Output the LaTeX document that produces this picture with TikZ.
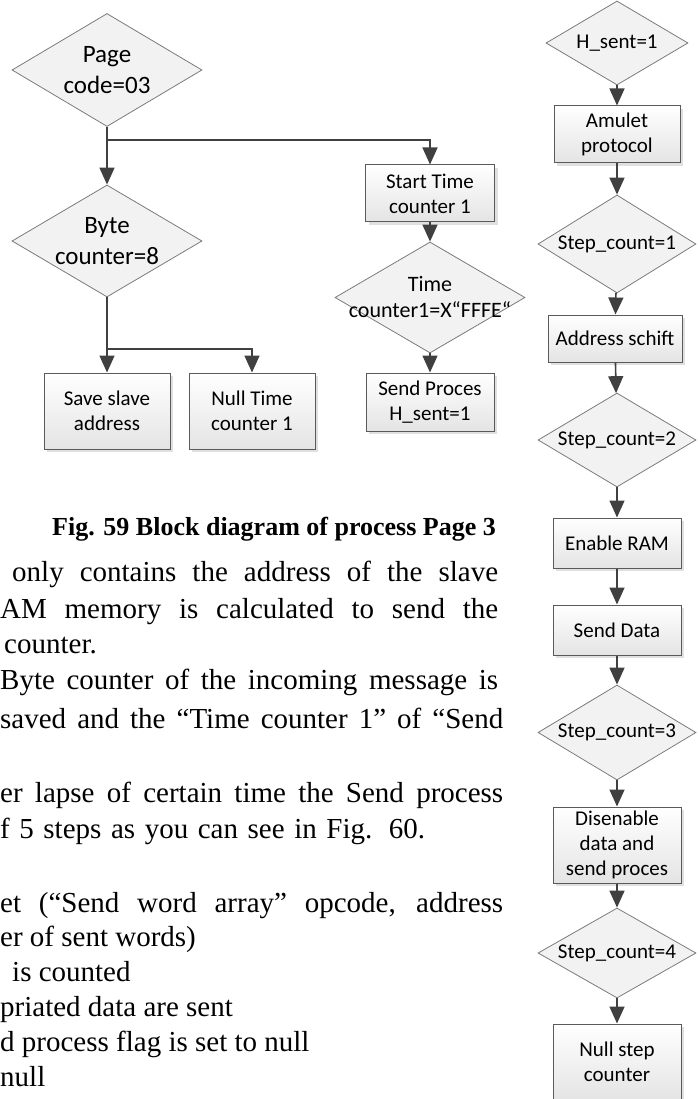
\documentclass[tikz,border=0pt]{standalone}
\usepackage{fontspec}
\setmainfont{Liberation Serif}
\newfontfamily\flowfont{Carlito}
\usetikzlibrary{arrows.meta, shapes.geometric, shadows}
\definecolor{linegray}{HTML}{404040}
\definecolor{edgegray}{HTML}{5A5A5A}
\definecolor{fillgray}{HTML}{E4E4E4}

\begin{document}
\begin{tikzpicture}[x=1pt, y=-1pt, >={Triangle[width=15pt,length=17pt]},
    every node/.style={font=\flowfont\fontsize{21}{25}\selectfont},
    box/.style={draw=edgegray, line width=1pt, top color=white, bottom color=fillgray,
      align=center, inner sep=1pt, minimum width=128pt, minimum height=50pt,
      drop shadow={shadow xshift=3pt, shadow yshift=-3pt, fill=black, opacity=0.12}},
    dec/.style={diamond, draw=edgegray!80, line width=0.8pt, fill=fillgray!50,
      inner sep=0pt},
    declbl/.style={align=center, inner sep=0pt},
    biglbl/.style={declbl, font=\flowfont\fontsize{25}{31}\selectfont},
    link/.style={draw=linegray, line width=1.6pt},
    arr/.style={link, ->},
    txt/.style={anchor=base west, inner sep=0pt, font=\fontsize{29}{34}\selectfont}]
  \useasboundingbox (0,0) rectangle (697,1099);
  \clip (0,0) rectangle (697,1099);

  % Fig. 59: process Page 3
  \node[dec, minimum width=190pt, minimum height=113pt,
    label={[biglbl]center:Page\\code=03}] (page) at (107,70) {};
  \node[dec, minimum width=190pt, minimum height=112pt,
    label={[biglbl]center:Byte\\counter=8}] (byte) at (107,241) {};
  \node[box, minimum width=126pt, minimum height=76pt] (save) at (107,411) {Save slave\\address};
  \node[box, minimum width=126pt, minimum height=76pt] (nulltc) at (252,411) {Null Time\\counter 1};
  \node[box, minimum width=129pt, minimum height=57pt] (start) at (430,193.5) {Start Time\\counter 1};
  \node[dec, minimum width=190pt, minimum height=111pt,
    label={[declbl, font=\flowfont\fontsize{22}{26}\selectfont]center:Time\\counter1=X“FFFE“}] (time) at (430,297.5) {};
  \node[box, minimum width=128pt, minimum height=58pt] (sendp) at (430,402) {Send Proces\\H\_sent=1};

  \coordinate (j1) at (107,140);
  \coordinate (j2) at (107,349);
  \draw[link] (page) -- (j1);
  \draw[arr] (j1) -- (byte);
  \draw[arr] (j1) -| (start);
  \draw[arr] (start) -- (time);
  \draw[arr] (time) -- (sendp);
  \draw[link] (byte) -- (j2);
  \draw[arr] (j2) -- (save);
  \draw[arr] (j2) -| (nulltc);

  \node[anchor=base west, inner sep=0pt, font=\bfseries\fontsize{26}{30}\selectfont] (cap)
    at (52,535) {Fig. 59 Block diagram of process Page 3};

  % Fig. 60: send process
  \node[dec, minimum width=142pt, minimum height=84pt,
    label={[declbl]center:H\_sent=1}] (hsent) at (617,43) {};
  \node[box, minimum width=126pt, minimum height=57pt] (amulet) at (617,134.5) {Amulet\\protocol};
  \node[dec, minimum width=158pt, minimum height=98pt,
    label={[declbl]center:Step\_count=1}] (st1) at (617,244) {};
  \node[box, minimum width=134pt, minimum height=47pt] (addr) at (615,338.5) {Address schift};
  \node[dec, minimum width=158pt, minimum height=94pt,
    label={[declbl]center:Step\_count=2}] (st2) at (617,440) {};
  \node[box, minimum width=128pt, minimum height=50pt] (enram) at (617,543) {Enable RAM};
  \node[box, minimum width=128pt, minimum height=50pt] (sdata) at (617,630) {Send Data};
  \node[dec, minimum width=158pt, minimum height=95pt,
    label={[declbl]center:Step\_count=3}] (st3) at (617,732.5) {};
  \node[box, minimum width=128pt, minimum height=76pt] (disen) at (617,845) {Disenable\\data and\\send proces};
  \node[dec, minimum width=158pt, minimum height=90pt,
    label={[declbl]center:Step\_count=4}] (st4) at (617,953) {};
  \node[box, minimum width=128pt, minimum height=76pt] (nullst) at (617,1062) {Null step\\counter};

  \draw[arr] (hsent) -- (amulet);
  \draw[arr] (amulet) -- (st1);
  \draw[arr] (st1) -- (addr);
  \draw[arr] (addr) -- (st2);
  \draw[arr] (st2) -- (enram);
  \draw[arr] (enram) -- (sdata);
  \draw[arr] (sdata) -- (st3);
  \draw[arr] (st3) -- (disen);
  \draw[arr] (disen) -- (st4);
  \draw[arr] (st4) -- (nullst);

  % body text, cut at the left edge
  \node[txt] (t1) at (12,581) {\makebox[486pt][s]{only contains the address of the slave}};
  \node[txt] (t2) at (0,618) {\makebox[498pt][s]{AM memory is calculated to send the}};
  \node[txt] (t3) at (4,653) {counter.};
  \node[txt] (t4) at (0,689) {\makebox[498pt][s]{Byte counter of the incoming message is}};
  \node[txt] (t5) at (0,728) {\makebox[503pt][s]{saved and the “Time counter 1” of “Send}};
  \node[txt] (t6) at (0,802) {\makebox[503pt][s]{er lapse of certain time the Send process}};
  \node[txt] (t7) at (0,838) {\makebox[425pt][s]{f 5 steps as you can see in Fig. 60.}};
  \node[txt] (t8) at (0,912) {\makebox[503pt][s]{et (“Send word array” opcode, address}};
  \node[txt] (t9) at (0,946) {er of sent words)};
  \node[txt] (t10) at (12,981) {is counted};
  \node[txt] (t11) at (0,1016) {priated data are sent};
  \node[txt] (t12) at (0,1051) {d process flag is set to null};
  \node[txt] (t13) at (0,1086) {null};
\end{tikzpicture}
\end{document}
